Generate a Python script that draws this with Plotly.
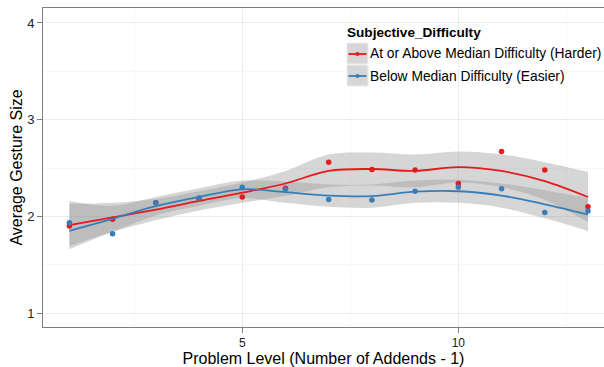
import plotly.graph_objects as go

levels = list(range(1, 14))

harder_pts = [1.90, 1.97, 2.14, 2.185, 2.20, 2.29, 2.56, 2.485, 2.48, 2.34, 2.67, 2.48, 2.10]
easier_pts = [1.935, 1.82, 2.14, 2.19, 2.30, 2.28, 2.175, 2.17, 2.26, 2.30, 2.285, 2.04, 2.055]

harder_fit = [1.91, 1.99, 2.07, 2.16, 2.245, 2.34, 2.47, 2.49, 2.47, 2.51, 2.47, 2.365, 2.20]
harder_hi = [2.13, 2.14, 2.18, 2.26, 2.35, 2.47, 2.64, 2.66, 2.64, 2.67, 2.64, 2.56, 2.46]
harder_lo = [1.69, 1.84, 1.96, 2.06, 2.14, 2.21, 2.30, 2.32, 2.30, 2.35, 2.30, 2.17, 1.94]

easier_fit = [1.85, 1.975, 2.105, 2.20, 2.28, 2.25, 2.215, 2.21, 2.255, 2.26, 2.215, 2.125, 2.02]
easier_hi = [2.16, 2.11, 2.20, 2.29, 2.37, 2.36, 2.33, 2.33, 2.37, 2.38, 2.34, 2.27, 2.19]
easier_lo = [1.66, 1.84, 2.01, 2.11, 2.19, 2.14, 2.10, 2.09, 2.14, 2.14, 2.09, 1.98, 1.85]

legend_title = "Subjective_Difficulty"
names = ["At or Above Median Difficulty (Harder)", "Below Median Difficulty (Easier)"]
colors = ["#E41A1C", "#377EB8"]
band_fill = "rgba(153,153,153,0.4)"

W, H = 604, 367
ML, MR, MT, MB = 43, 0, 8, 40
PW, PH = W - ML - MR, H - MT - MB


def px(x):
    return (x - ML) / PW


def py(y):
    return (H - MB - y) / PH


fig = go.Figure()

for hi, lo in [(harder_hi, harder_lo), (easier_hi, easier_lo)]:
    fig.add_trace(go.Scatter(x=levels, y=hi, mode="lines", line=dict(width=0, shape="spline"),
                             showlegend=False, hoverinfo="skip"))
    fig.add_trace(go.Scatter(x=levels, y=lo, mode="lines", line=dict(width=0, shape="spline"),
                             fill="tonexty", fillcolor=band_fill, showlegend=False, hoverinfo="skip"))

for pts, fit, name, col in [(harder_pts, harder_fit, names[0], colors[0]),
                            (easier_pts, easier_fit, names[1], colors[1])]:
    fig.add_trace(go.Scatter(x=levels, y=fit, mode="lines", name=name,
                             line=dict(color=col, width=1.8, shape="spline"), showlegend=False))
    fig.add_trace(go.Scatter(x=levels, y=pts, mode="markers", name=name,
                             marker=dict(color=col, size=5.5), showlegend=False))

# manual ggplot-style legend
shapes = []
annotations = [dict(text="<b>" + legend_title + "</b>", xref="paper", yref="paper",
                    x=px(345), y=py(33), xanchor="left", yanchor="middle", showarrow=False,
                    font=dict(size=13.6, color="black"))]
for i, (name, col) in enumerate(zip(names, colors)):
    top = 43 + i * 22
    cy = top + 11
    shapes.append(dict(type="rect", xref="paper", yref="paper", layer="above",
                       x0=px(347), x1=px(368), y0=py(top + 21), y1=py(top),
                       fillcolor="#d6d6d6", line=dict(color="#eeeeee", width=1)))
    shapes.append(dict(type="line", xref="paper", yref="paper", layer="above",
                       x0=px(348.5), x1=px(366.5), y0=py(cy), y1=py(cy),
                       line=dict(color=col, width=1.8)))
    shapes.append(dict(type="circle", xref="paper", yref="paper", layer="above",
                       x0=px(355.5), x1=px(359.5), y0=py(cy + 2), y1=py(cy - 2),
                       fillcolor=col, line=dict(color=col, width=0)))
    annotations.append(dict(text=name, xref="paper", yref="paper",
                            x=px(368), y=py(cy), xanchor="left", yanchor="middle", showarrow=False,
                            font=dict(size=13.8, color="black")))

fig.update_layout(
    width=W, height=H,
    margin=dict(l=ML, r=MR, t=MT, b=MB),
    paper_bgcolor="white", plot_bgcolor="white",
    font=dict(family="Liberation Sans, Arial, sans-serif", color="black", size=13),
    showlegend=False,
    shapes=shapes, annotations=annotations,
    xaxis=dict(
        range=[0.39, 13.37], tickvals=[5, 10], ticks="outside", ticklen=5, tickcolor="#7f7f7f",
        showgrid=True, gridcolor="#ebebeb", gridwidth=1,
        minor=dict(tickvals=[2.5, 7.5, 12.5], showgrid=True, gridcolor="#f7f7f7", ticks=""),
        showline=True, linecolor="#7f7f7f", linewidth=1, mirror=True, zeroline=False,
        tickfont=dict(size=12, color="#222"),
        title=dict(text="Problem Level (Number of Addends - 1)", font=dict(size=16), standoff=3),
    ),
    yaxis=dict(
        range=[0.856, 4.155], tickvals=[1, 2, 3, 4], ticks="outside", ticklen=5, tickcolor="#7f7f7f",
        showgrid=True, gridcolor="#ebebeb", gridwidth=1,
        minor=dict(tickvals=[1.5, 2.5, 3.5], showgrid=True, gridcolor="#f7f7f7", ticks=""),
        showline=True, linecolor="#7f7f7f", linewidth=1, mirror=True, zeroline=False,
        tickfont=dict(size=13, color="#222"),
        title=dict(text="Average Gesture Size", font=dict(size=16), standoff=0),
    ),
)

fig.write_html("out.html", config={"displayModeBar": False},
               post_script="document.body.style.margin='0';document.body.style.overflow='hidden';")
